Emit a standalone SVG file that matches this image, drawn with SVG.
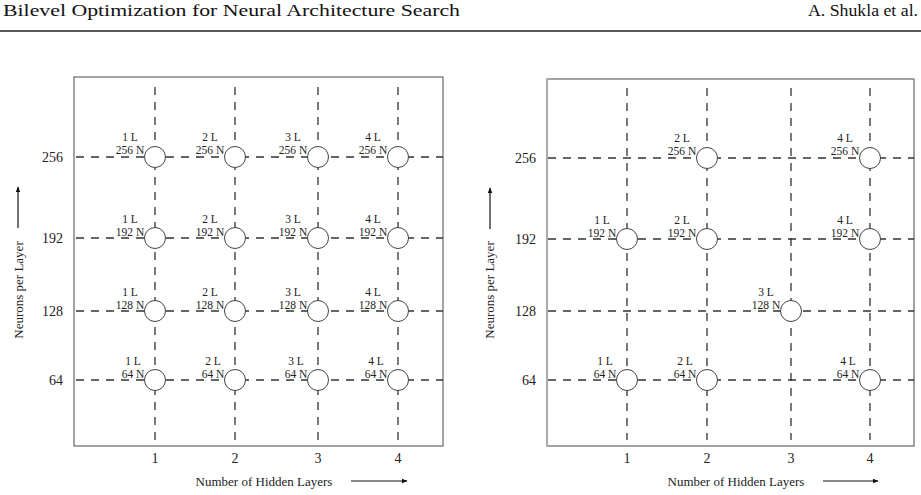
<svg xmlns="http://www.w3.org/2000/svg" width="921" height="495" viewBox="0 0 921 495">
<defs>
<style>
.hdr{font-family:"Liberation Serif","DejaVu Serif",serif;font-size:16px;fill:#111}
.box{fill:none;stroke:#666;stroke-width:1.2}
.grid{stroke:#333;stroke-width:1.3;stroke-dasharray:8 7;fill:none}
.node circle{fill:#fff;stroke:#444;stroke-width:1}
.nl{font-family:"Liberation Serif","DejaVu Serif",serif;font-size:11.5px;fill:#222;text-anchor:middle}
.tick{font-family:"Liberation Serif","DejaVu Serif",serif;font-size:14px;fill:#222}
.ax{font-family:"Liberation Serif","DejaVu Serif",serif;font-size:13px;fill:#222}
.arr{stroke:#111;stroke-width:1.2;fill:none;marker-end:url(#ah)}
</style>
<marker id="ah" viewBox="0 0 10 10" refX="9" refY="5" markerWidth="6" markerHeight="6" markerUnits="userSpaceOnUse" orient="auto">
<path d="M0,1 L10,5 L0,9 Z" fill="#111"/>
</marker>
</defs>
<rect width="921" height="495" fill="#fff"/>
<!-- header -->
<text class="hdr" x="3" y="16" textLength="457" lengthAdjust="spacingAndGlyphs">Bilevel Optimization for Neural Architecture Search</text>
<text class="hdr" x="918" y="16" text-anchor="end" textLength="110" lengthAdjust="spacingAndGlyphs">A. Shukla et al.</text>
<line x1="0" y1="31" x2="921" y2="31" stroke="#222" stroke-width="1.3"/>

<!-- LEFT PANEL -->
<rect class="box" x="74" y="77" width="369" height="369"/>
<g id="connectors-left">
<line class="grid" x1="155" y1="87" x2="155" y2="440"/>
<line class="grid" x1="235" y1="87" x2="235" y2="440"/>
<line class="grid" x1="318" y1="87" x2="318" y2="440"/>
<line class="grid" x1="398" y1="87" x2="398" y2="440"/>
<line class="grid" x1="76" y1="157" x2="443" y2="157"/>
<line class="grid" x1="76" y1="238" x2="443" y2="238"/>
<line class="grid" x1="76" y1="311" x2="443" y2="311"/>
<line class="grid" x1="76" y1="380" x2="443" y2="380"/>
</g>
<g id="L-1L256N" class="node"><circle cx="155" cy="157" r="10.5"/><text class="nl" x="130" y="141">1 L</text><text class="nl" x="130" y="154">256 N</text></g>
<g id="L-2L256N" class="node"><circle cx="235" cy="157" r="10.5"/><text class="nl" x="210" y="141">2 L</text><text class="nl" x="210" y="154">256 N</text></g>
<g id="L-3L256N" class="node"><circle cx="318" cy="157" r="10.5"/><text class="nl" x="293" y="141">3 L</text><text class="nl" x="293" y="154">256 N</text></g>
<g id="L-4L256N" class="node"><circle cx="398" cy="157" r="10.5"/><text class="nl" x="373" y="141">4 L</text><text class="nl" x="373" y="154">256 N</text></g>
<g id="L-1L192N" class="node"><circle cx="155" cy="238" r="10.5"/><text class="nl" x="130" y="222.5">1 L</text><text class="nl" x="130" y="235.5">192 N</text></g>
<g id="L-2L192N" class="node"><circle cx="235" cy="238" r="10.5"/><text class="nl" x="210" y="222.5">2 L</text><text class="nl" x="210" y="235.5">192 N</text></g>
<g id="L-3L192N" class="node"><circle cx="318" cy="238" r="10.5"/><text class="nl" x="293" y="222.5">3 L</text><text class="nl" x="293" y="235.5">192 N</text></g>
<g id="L-4L192N" class="node"><circle cx="398" cy="238" r="10.5"/><text class="nl" x="373" y="222.5">4 L</text><text class="nl" x="373" y="235.5">192 N</text></g>
<g id="L-1L128N" class="node"><circle cx="155" cy="311" r="10.5"/><text class="nl" x="130" y="295.5">1 L</text><text class="nl" x="130" y="308.5">128 N</text></g>
<g id="L-2L128N" class="node"><circle cx="235" cy="311" r="10.5"/><text class="nl" x="210" y="295.5">2 L</text><text class="nl" x="210" y="308.5">128 N</text></g>
<g id="L-3L128N" class="node"><circle cx="318" cy="311" r="10.5"/><text class="nl" x="293" y="295.5">3 L</text><text class="nl" x="293" y="308.5">128 N</text></g>
<g id="L-4L128N" class="node"><circle cx="398" cy="311" r="10.5"/><text class="nl" x="373" y="295.5">4 L</text><text class="nl" x="373" y="308.5">128 N</text></g>
<g id="L-1L64N" class="node"><circle cx="155" cy="380" r="10.5"/><text class="nl" x="133" y="364.5">1 L</text><text class="nl" x="133" y="377.5">64 N</text></g>
<g id="L-2L64N" class="node"><circle cx="235" cy="380" r="10.5"/><text class="nl" x="213" y="364.5">2 L</text><text class="nl" x="213" y="377.5">64 N</text></g>
<g id="L-3L64N" class="node"><circle cx="318" cy="380" r="10.5"/><text class="nl" x="296" y="364.5">3 L</text><text class="nl" x="296" y="377.5">64 N</text></g>
<g id="L-4L64N" class="node"><circle cx="398" cy="380" r="10.5"/><text class="nl" x="376" y="364.5">4 L</text><text class="nl" x="376" y="377.5">64 N</text></g>
<!-- left axes -->
<text class="tick" x="63" y="162" text-anchor="end">256</text>
<text class="tick" x="63" y="243" text-anchor="end">192</text>
<text class="tick" x="63" y="316" text-anchor="end">128</text>
<text class="tick" x="63" y="385" text-anchor="end">64</text>
<text class="tick" x="155" y="463" text-anchor="middle">1</text>
<text class="tick" x="235" y="463" text-anchor="middle">2</text>
<text class="tick" x="318" y="463" text-anchor="middle">3</text>
<text class="tick" x="398" y="463" text-anchor="middle">4</text>
<text class="ax" x="264" y="486" text-anchor="middle">Number of Hidden Layers</text>
<line class="arr" x1="351" y1="481" x2="407" y2="481"/>
<text class="ax" transform="translate(23,290) rotate(-90)" text-anchor="middle">Neurons per Layer</text>
<line class="arr" x1="18" y1="228" x2="18" y2="187"/>

<!-- RIGHT PANEL -->
<rect class="box" x="547" y="79" width="367" height="367"/>
<line x1="547" y1="79" x2="547" y2="446" stroke="#aaa" stroke-width="2"/>
<g id="connectors-right">
<line class="grid" x1="627" y1="88" x2="627" y2="440"/>
<line class="grid" x1="707" y1="88" x2="707" y2="440"/>
<line class="grid" x1="791" y1="88" x2="791" y2="440"/>
<line class="grid" x1="870" y1="88" x2="870" y2="440"/>
<line class="grid" x1="548" y1="158" x2="914" y2="158"/>
<line class="grid" x1="548" y1="239" x2="914" y2="239"/>
<line class="grid" x1="548" y1="311" x2="914" y2="311"/>
<line class="grid" x1="548" y1="380" x2="914" y2="380"/>
</g>
<g id="R-2L256N" class="node"><circle cx="707" cy="158" r="10.5"/><text class="nl" x="682" y="142">2 L</text><text class="nl" x="682" y="155">256 N</text></g>
<g id="R-4L256N" class="node"><circle cx="870" cy="158" r="10.5"/><text class="nl" x="845" y="142">4 L</text><text class="nl" x="845" y="155">256 N</text></g>
<g id="R-1L192N" class="node"><circle cx="627" cy="239" r="10.5"/><text class="nl" x="602" y="223.5">1 L</text><text class="nl" x="602" y="236.5">192 N</text></g>
<g id="R-2L192N" class="node"><circle cx="707" cy="239" r="10.5"/><text class="nl" x="682" y="223.5">2 L</text><text class="nl" x="682" y="236.5">192 N</text></g>
<g id="R-4L192N" class="node"><circle cx="870" cy="239" r="10.5"/><text class="nl" x="845" y="223.5">4 L</text><text class="nl" x="845" y="236.5">192 N</text></g>
<g id="R-3L128N" class="node"><circle cx="791" cy="311" r="10.5"/><text class="nl" x="766" y="295.5">3 L</text><text class="nl" x="766" y="308.5">128 N</text></g>
<g id="R-1L64N" class="node"><circle cx="627" cy="380" r="10.5"/><text class="nl" x="605" y="364.5">1 L</text><text class="nl" x="605" y="377.5">64 N</text></g>
<g id="R-2L64N" class="node"><circle cx="707" cy="380" r="10.5"/><text class="nl" x="685" y="364.5">2 L</text><text class="nl" x="685" y="377.5">64 N</text></g>
<g id="R-4L64N" class="node"><circle cx="870" cy="380" r="10.5"/><text class="nl" x="848" y="364.5">4 L</text><text class="nl" x="848" y="377.5">64 N</text></g>
<!-- right axes -->
<text class="tick" x="536" y="163" text-anchor="end">256</text>
<text class="tick" x="536" y="244" text-anchor="end">192</text>
<text class="tick" x="536" y="316" text-anchor="end">128</text>
<text class="tick" x="536" y="385" text-anchor="end">64</text>
<text class="tick" x="627" y="463" text-anchor="middle">1</text>
<text class="tick" x="707" y="463" text-anchor="middle">2</text>
<text class="tick" x="791" y="463" text-anchor="middle">3</text>
<text class="tick" x="870" y="463" text-anchor="middle">4</text>
<text class="ax" x="736" y="486" text-anchor="middle">Number of Hidden Layers</text>
<line class="arr" x1="823" y1="481" x2="878" y2="481"/>
<text class="ax" transform="translate(494,290) rotate(-90)" text-anchor="middle">Neurons per Layer</text>
<line class="arr" x1="490" y1="229" x2="490" y2="188"/>
</svg>
